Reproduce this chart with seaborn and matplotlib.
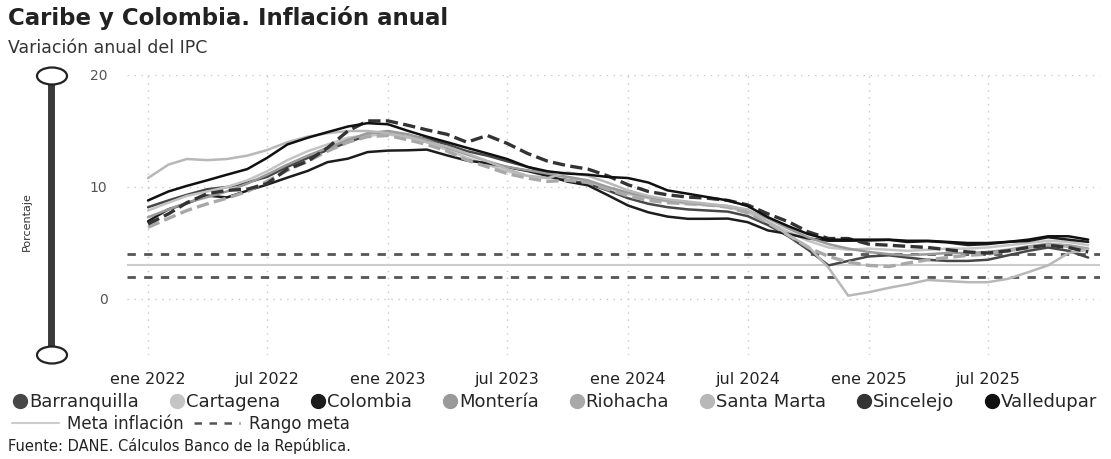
import numpy as np
import pandas as pd
import seaborn as sns
import matplotlib.pyplot as plt
from matplotlib.lines import Line2D
from matplotlib.patches import Ellipse

# Data: monthly annual CPI variation (%), Jan 2022 - Dec 2025
months = pd.date_range("2022-01-01", periods=48, freq="MS")

barranquilla = [8.2, 8.8, 9.3, 9.8, 10.0, 10.4, 10.9, 11.8, 12.6, 13.3, 14.0, 14.6,
                14.8, 14.6, 14.3, 13.8, 13.2, 12.8, 12.3, 11.8, 11.2, 10.6, 10.3, 9.7,
                9.0, 8.5, 8.2, 8.0, 7.9, 7.8, 7.4, 6.6, 5.6, 4.4, 3.0, 3.4,
                3.8, 3.9, 3.7, 3.5, 3.4, 3.4, 3.5, 3.9, 4.3, 4.6, 4.3, 3.7]
cartagena = [7.9, 8.6, 9.2, 9.6, 10.0, 10.6, 11.4, 12.4, 13.2, 13.8, 14.4, 14.6,
             14.7, 14.4, 14.0, 13.3, 12.6, 12.0, 11.4, 11.0, 10.8, 10.9, 10.5, 9.9,
             9.4, 9.0, 8.7, 8.5, 8.4, 8.2, 7.7, 6.9, 6.0, 5.2, 4.6, 4.4,
             4.5, 4.4, 4.3, 4.4, 4.5, 4.5, 4.6, 4.8, 5.0, 5.2, 5.1, 4.8]
colombia = [6.94, 8.01, 8.53, 9.23, 9.07, 9.67, 10.21, 10.84, 11.44, 12.22, 12.53, 13.12,
            13.25, 13.28, 13.34, 12.82, 12.36, 12.13, 11.78, 11.43, 10.99, 10.48, 10.15, 9.28,
            8.35, 7.74, 7.36, 7.16, 7.16, 7.18, 6.86, 6.12, 5.81, 5.41, 5.20, 5.20,
            5.22, 5.28, 5.09, 5.16, 5.05, 4.82, 4.90, 5.10, 5.18, 5.51, 5.30, 5.10]
monteria = [7.3, 8.0, 8.6, 9.1, 9.6, 10.3, 11.1, 12.0, 12.8, 13.5, 14.2, 14.8,
            15.0, 14.7, 14.2, 13.5, 12.9, 12.3, 11.8, 11.5, 11.2, 10.9, 10.6, 10.0,
            9.5, 9.1, 8.8, 8.6, 8.4, 8.3, 7.9, 7.2, 6.3, 5.5, 4.9, 4.5,
            4.2, 4.0, 3.9, 4.0, 4.1, 4.1, 4.2, 4.4, 4.7, 4.9, 4.8, 4.5]
riohacha = [6.4, 7.2, 7.9, 8.5, 9.0, 9.6, 10.5, 11.5, 12.3, 13.2, 14.0, 14.5,
            14.6, 14.2, 13.8, 13.2, 12.4, 11.8, 11.2, 10.8, 10.5, 10.6, 10.4, 9.8,
            9.2, 8.8, 8.6, 8.5, 8.4, 8.2, 7.7, 6.8, 5.7, 4.6, 3.8, 3.3,
            3.0, 2.9, 3.2, 3.5, 3.7, 3.9, 4.0, 4.3, 4.6, 4.9, 4.7, 4.4]
santa_marta = [10.8, 12.0, 12.5, 12.4, 12.5, 12.8, 13.3, 14.0, 14.5, 14.8, 15.0, 15.0,
               14.8, 14.5, 14.0, 13.6, 13.0, 12.3, 11.6, 11.0, 10.8, 11.3, 11.0, 10.4,
               9.7, 9.2, 8.9, 8.7, 8.5, 8.3, 8.0, 6.9, 5.7, 4.7, 2.8, 0.3,
               0.6, 1.0, 1.3, 1.7, 1.6, 1.5, 1.5, 1.8, 2.4, 3.0, 4.1, 4.4]
sincelejo = [6.7, 7.6, 8.6, 9.4, 9.7, 9.8, 10.3, 11.6, 12.3, 13.5, 15.0, 15.9,
             15.9, 15.5, 15.1, 14.7, 14.0, 14.6, 13.9, 13.0, 12.3, 11.9, 11.6, 11.0,
             10.2, 9.6, 9.3, 9.1, 9.0, 8.8, 8.4, 7.6, 6.9, 6.0, 5.4, 5.4,
             4.9, 4.8, 4.7, 4.6, 4.4, 4.2, 4.1, 4.3, 4.6, 4.8, 4.6, 4.2]
valledupar = [8.8, 9.6, 10.1, 10.6, 11.1, 11.6, 12.6, 13.8, 14.4, 14.9, 15.4, 15.7,
              15.6, 15.0, 14.5, 14.0, 13.5, 13.0, 12.5, 11.8, 11.4, 11.2, 11.1, 10.9,
              10.8, 10.4, 9.7, 9.4, 9.1, 8.8, 8.3, 7.3, 6.5, 5.8, 5.3, 5.3,
              5.3, 5.3, 5.2, 5.2, 5.1, 5.0, 5.0, 5.1, 5.3, 5.6, 5.6, 5.3]

cities = ["Barranquilla", "Cartagena", "Colombia", "Montería", "Riohacha",
          "Santa Marta", "Sincelejo", "Valledupar"]
series = [barranquilla, cartagena, colombia, monteria, riohacha,
          santa_marta, sincelejo, valledupar]
colors = ["#474747", "#c4c4c4", "#1c1c1c", "#9a9a9a", "#a8a8a8",
          "#b8b8b8", "#333333", "#101010"]
styles = ["-", "-", "-", "-", "--", "-", "--", "-"]

meta = 3.0
rango = [2.0, 4.0]

tick_dates = pd.to_datetime(["2022-01-01", "2022-07-01", "2023-01-01", "2023-07-01",
                             "2024-01-01", "2024-07-01", "2025-01-01", "2025-07-01"])
tick_labels = ["ene 2022", "jul 2022", "ene 2023", "jul 2023",
               "ene 2024", "jul 2024", "ene 2025", "jul 2025"]

sns.set_style("white")
plt.rcParams["font.family"] = ["DejaVu Sans"]

W, H = 1111, 459
fig = plt.figure(figsize=(W / 100, H / 100), dpi=100)
ax = fig.add_axes([127 / W, 1 - 355 / H, (1100 - 127) / W, (355 - 75) / H])

# target lines
ax.axhline(meta, color="#cccccc", lw=1.5, zorder=1)
for r in rango:
    ax.axhline(r, color="#555555", lw=2.0, ls=(0, (3, 3)), zorder=1)

for name, vals, c, ls in zip(cities, series, colors, styles):
    lw = 2.4 if ls == "--" else 1.8
    sns.lineplot(x=months, y=vals, ax=ax, color=c, lw=lw, linestyle=ls, zorder=3)

ax.set_xlim(pd.Timestamp("2021-11-30"), pd.Timestamp("2025-12-19"))
ax.set_ylim(-5, 20)
ax.set_yticks([0, 10, 20])
ax.set_xticks(tick_dates)
ax.set_xticklabels(tick_labels)
ax.tick_params(axis="x", labelsize=11.5, colors="#222222", length=0, pad=12)
ax.tick_params(axis="y", labelsize=10, colors="#555555", length=0, pad=14)
ax.grid(True, color="#c8c8c8", ls=(0, (1, 4)), lw=1)
ax.set_xlabel("")
ax.set_ylabel("")
for s in ax.spines.values():
    s.set_visible(False)

# titles
fig.text(8 / W, 1 - 18 / H, "Caribe y Colombia. Inflación anual", fontsize=16.5,
         fontweight="bold", color="#222222", va="center")
fig.text(8 / W, 1 - 48 / H, "Variación anual del IPC", fontsize=12.5,
         color="#333333", va="center")

# axis slider decoration and axis title
fig.add_artist(Line2D([51 / W, 51 / W], [1 - 78 / H, 1 - 352 / H], color="#3a3a3a",
                      lw=5, transform=fig.transFigure, zorder=1))
for cy in (76, 355):
    fig.add_artist(Ellipse((52 / W, 1 - cy / H), 30 / W, 17 / H, transform=fig.transFigure,
                           facecolor="white", edgecolor="#222222", lw=1.6, zorder=2))
fig.text(27 / W, 1 - 222 / H, "Porcentaje", rotation=90, fontsize=8,
         color="#333333", va="center", ha="center")

# legends
city_handles = [Line2D([], [], marker="o", ls="", markersize=10, color=c) for c in colors]
fig.legend(city_handles, cities, loc="center left", bbox_to_anchor=(14 / W, 1 - 402 / H),
           ncol=8, frameon=False, fontsize=13, handlelength=0.7, handletextpad=0.15,
           columnspacing=1.75, borderpad=0, borderaxespad=0)
ref_handles = [Line2D([], [], color="#cccccc", lw=1.5),
               Line2D([], [], color="#555555", lw=1.8, ls=(0, (3, 3)))]
fig.legend(ref_handles, ["Meta inflación", "Rango meta"], loc="center left",
           bbox_to_anchor=(12 / W, 1 - 424 / H), ncol=2, frameon=False, fontsize=12,
           handlelength=2.8, handletextpad=0.5, columnspacing=0.6, borderpad=0,
           borderaxespad=0)

fig.text(8 / W, 1 - 446 / H, "Fuente: DANE. Cálculos Banco de la República.",
         fontsize=10.5, color="#222222", va="center")

fig.savefig("out.png", dpi=100)
